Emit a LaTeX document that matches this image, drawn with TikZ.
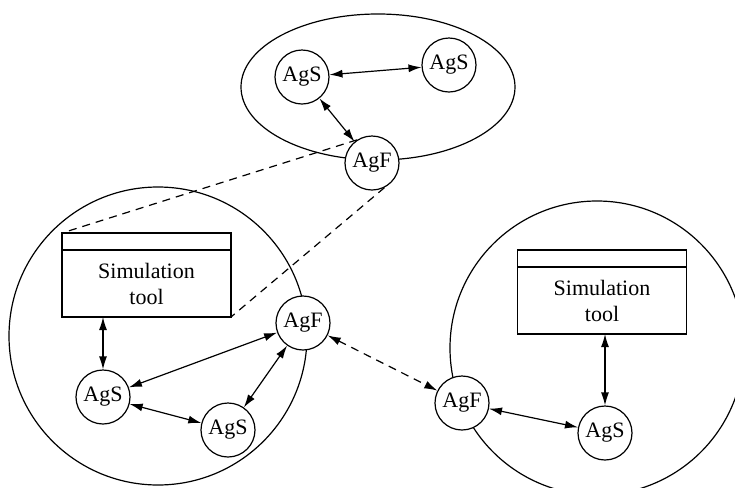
\documentclass[tikz,border=0pt]{standalone}
\usepackage{fontspec}
\setmainfont{Liberation Serif}
\usetikzlibrary{arrows.meta}

\begin{document}
\begin{tikzpicture}[x=0.5pt,y=-0.5pt,line width=0.6pt,
  font=\fontsize{11}{13}\selectfont,
  >={Latex[length=6.5pt,width=4pt]},
  agent/.style={draw,circle,fill=white,minimum size=27pt,inner sep=0pt},
  toolbox/.style={draw,rectangle,fill=white,minimum width=84.5pt,minimum height=33.5pt,align=center,inner sep=0pt,outer sep=0pt},
  toolhead/.style={draw,rectangle,fill=white,minimum width=84.5pt,minimum height=8.5pt,inner sep=0pt,outer sep=0pt,anchor=south},
  link/.style={<->},
  zoomline/.style={dash pattern=on 4pt off 3pt}]
  \useasboundingbox (0,0) rectangle (735,488);
  \clip (0,0) rectangle (735,488);

  % Clusters.
  \draw (378,87) ellipse [x radius=137, y radius=73];
  \draw (158,336) circle (149);
  \draw (597,348) circle (147);

  % Top cluster.
  \node[agent] (topS) at (302,77) {AgS};
  \node[agent] (topS2) at (449,65) {AgS};
  \node[agent] (topF) at (372,163) {AgF};

  % Left cluster.
  \node[toolbox] (leftTool) at (146.5,283.5) {Simulation\\tool};
  \node[toolhead] (leftHead) at (leftTool.north) {};
  \node[agent] (leftF) at (303,323) {AgF};
  \node[agent] (leftS) at (103,397) {AgS};
  \node[agent] (leftS2) at (228,430) {AgS};

  % Right cluster.
  \node[toolbox] (rightTool) at (602,300.5) {Simulation\\tool};
  \node[toolhead] (rightHead) at (rightTool.north) {};
  \node[agent] (rightF) at (462,403) {AgF};
  \node[agent] (rightS) at (605,433) {AgS};

  \draw[link] (topS) -- (topS2);
  \draw[link] (topS) -- (topF);
  \draw[link] (leftS) -- (leftS |- leftTool.south);
  \draw[link] (leftS) -- (leftF);
  \draw[link] (leftS) -- (leftS2);
  \draw[link] (leftS2) -- (leftF);
  \draw[link,zoomline] (leftF) -- (rightF);
  \draw[link] (rightF) -- (rightS);
  \draw[link] (rightS) -- (rightS |- rightTool.south);
  \draw[zoomline] (topF.123) -- (leftHead.north west);
  \draw[zoomline] (topF.-63) -- (leftTool.south east);
\end{tikzpicture}
\end{document}
